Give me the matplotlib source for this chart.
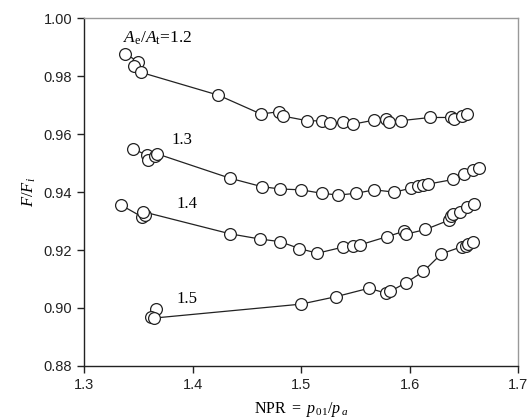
import matplotlib.pyplot as plt

plt.rcParams['mathtext.fontset'] = 'custom'
plt.rcParams['mathtext.rm'] = 'Liberation Serif'
plt.rcParams['mathtext.it'] = 'Liberation Serif:italic'
plt.rcParams['font.family'] = 'Liberation Sans'

# --- data (NPR, F/Fi) for each area ratio ---
npr_12 = [1.3378, 1.350, 1.3461, 1.3523, 1.4238, 1.4629, 1.480, 1.4831, 1.5053, 1.5191,
          1.5267, 1.539, 1.5482, 1.5673, 1.5783, 1.5814, 1.5922, 1.6189, 1.6382, 1.641,
          1.6481, 1.6527]
f_12 = [0.9879, 0.9850, 0.9836, 0.9814, 0.9735, 0.9670, 0.9678, 0.9663, 0.9647, 0.9646,
        0.9638, 0.9641, 0.9635, 0.9649, 0.9653, 0.9641, 0.9647, 0.9658, 0.9658, 0.9653,
        0.9663, 0.9670]

npr_13 = [1.3454, 1.3578, 1.3593, 1.3654, 1.3676, 1.4346, 1.4638, 1.4806, 1.500, 1.5191,
          1.5344, 1.5507, 1.5673, 1.586, 1.6014, 1.6081, 1.6127, 1.6173, 1.6404, 1.6505,
          1.6588, 1.664]
f_13 = [0.9549, 0.9528, 0.9511, 0.9526, 0.9532, 0.9448, 0.9419, 0.9411, 0.9408, 0.9396,
        0.9390, 0.9396, 0.9408, 0.9400, 0.9414, 0.9421, 0.9425, 0.9428, 0.9444, 0.9463,
        0.9477, 0.9483]

npr_14 = [1.3338, 1.3532, 1.3562, 1.3547, 1.4346, 1.4622, 1.4806, 1.4985, 1.515, 1.5384,
          1.5476, 1.5544, 1.579, 1.5949, 1.5968, 1.6146, 1.6361, 1.6379, 1.6404, 1.6465,
          1.6527, 1.6594]
f_14 = [0.9356, 0.9315, 0.9321, 0.9332, 0.9256, 0.9238, 0.9229, 0.9205, 0.9189, 0.9210,
        0.9214, 0.9218, 0.9246, 0.9265, 0.9255, 0.9271, 0.9303, 0.9317, 0.9326, 0.9332,
        0.9347, 0.9359]

npr_15 = [1.3664, 1.3615, 1.3645, 1.4997, 1.5323, 1.5624, 1.5783, 1.582, 1.5962, 1.6127,
          1.6293, 1.6484, 1.652, 1.6542, 1.6582]
f_15 = [0.8997, 0.8967, 0.8965, 0.9013, 0.9039, 0.9068, 0.9051, 0.9057, 0.9086, 0.9126,
        0.9187, 0.9212, 0.9215, 0.9221, 0.9227]

series = [(npr_12, f_12), (npr_13, f_13), (npr_14, f_14), (npr_15, f_15)]

fig = plt.figure(figsize=(5.32, 4.2), dpi=100)
ax = fig.add_axes([0.158, 0.129, 0.816, 0.827])

for x, y in series:
    ax.plot(x, y, '-', color='#222222', lw=0.9, marker='o', ms=8.5,
            mfc='white', mec='#222222', mew=0.9)

serif = 'Liberation Serif'
ax.text(1.336, 0.9932, r'$A_{\mathrm{e}}/A_{\mathrm{t}}$=1.2', fontsize=12.5,
        family=serif, va='center', ha='left')
ax.text(1.3903, 0.958, '1.3', fontsize=12, family=serif, ha='center', va='center')
ax.text(1.3949, 0.9358, '1.4', fontsize=12, family=serif, ha='center', va='center')
ax.text(1.3949, 0.9031, '1.5', fontsize=12, family=serif, ha='center', va='center')

ax.set_xlim(1.3, 1.7)
ax.set_ylim(0.88, 1.0)
ax.set_xticks([1.3, 1.4, 1.5, 1.6, 1.7])
ax.set_yticks([0.88, 0.90, 0.92, 0.94, 0.96, 0.98, 1.00])
ax.set_xticklabels(['1.3', '1.4', '1.5', '1.6', '1.7'])
ax.set_yticklabels(['0.88', '0.90', '0.92', '0.94', '0.96', '0.98', '1.00'])
ax.tick_params(direction='out', length=5, width=1, labelsize=10.5, colors='#222222')

ax.spines['left'].set_color('#222222')
ax.spines['bottom'].set_color('#222222')
ax.spines['top'].set_color('#999999')
ax.spines['right'].set_color('#999999')
for s in ax.spines.values():
    s.set_linewidth(1)

ax.set_xlabel(r'$\mathrm{NPR\ =\ }p_{\,\mathrm{01}}/p_{\,a}$', fontsize=11.5, labelpad=6)
ax.set_ylabel(r'$F/F_i$', fontsize=12, labelpad=4)

fig.savefig('out.png', dpi=100)
